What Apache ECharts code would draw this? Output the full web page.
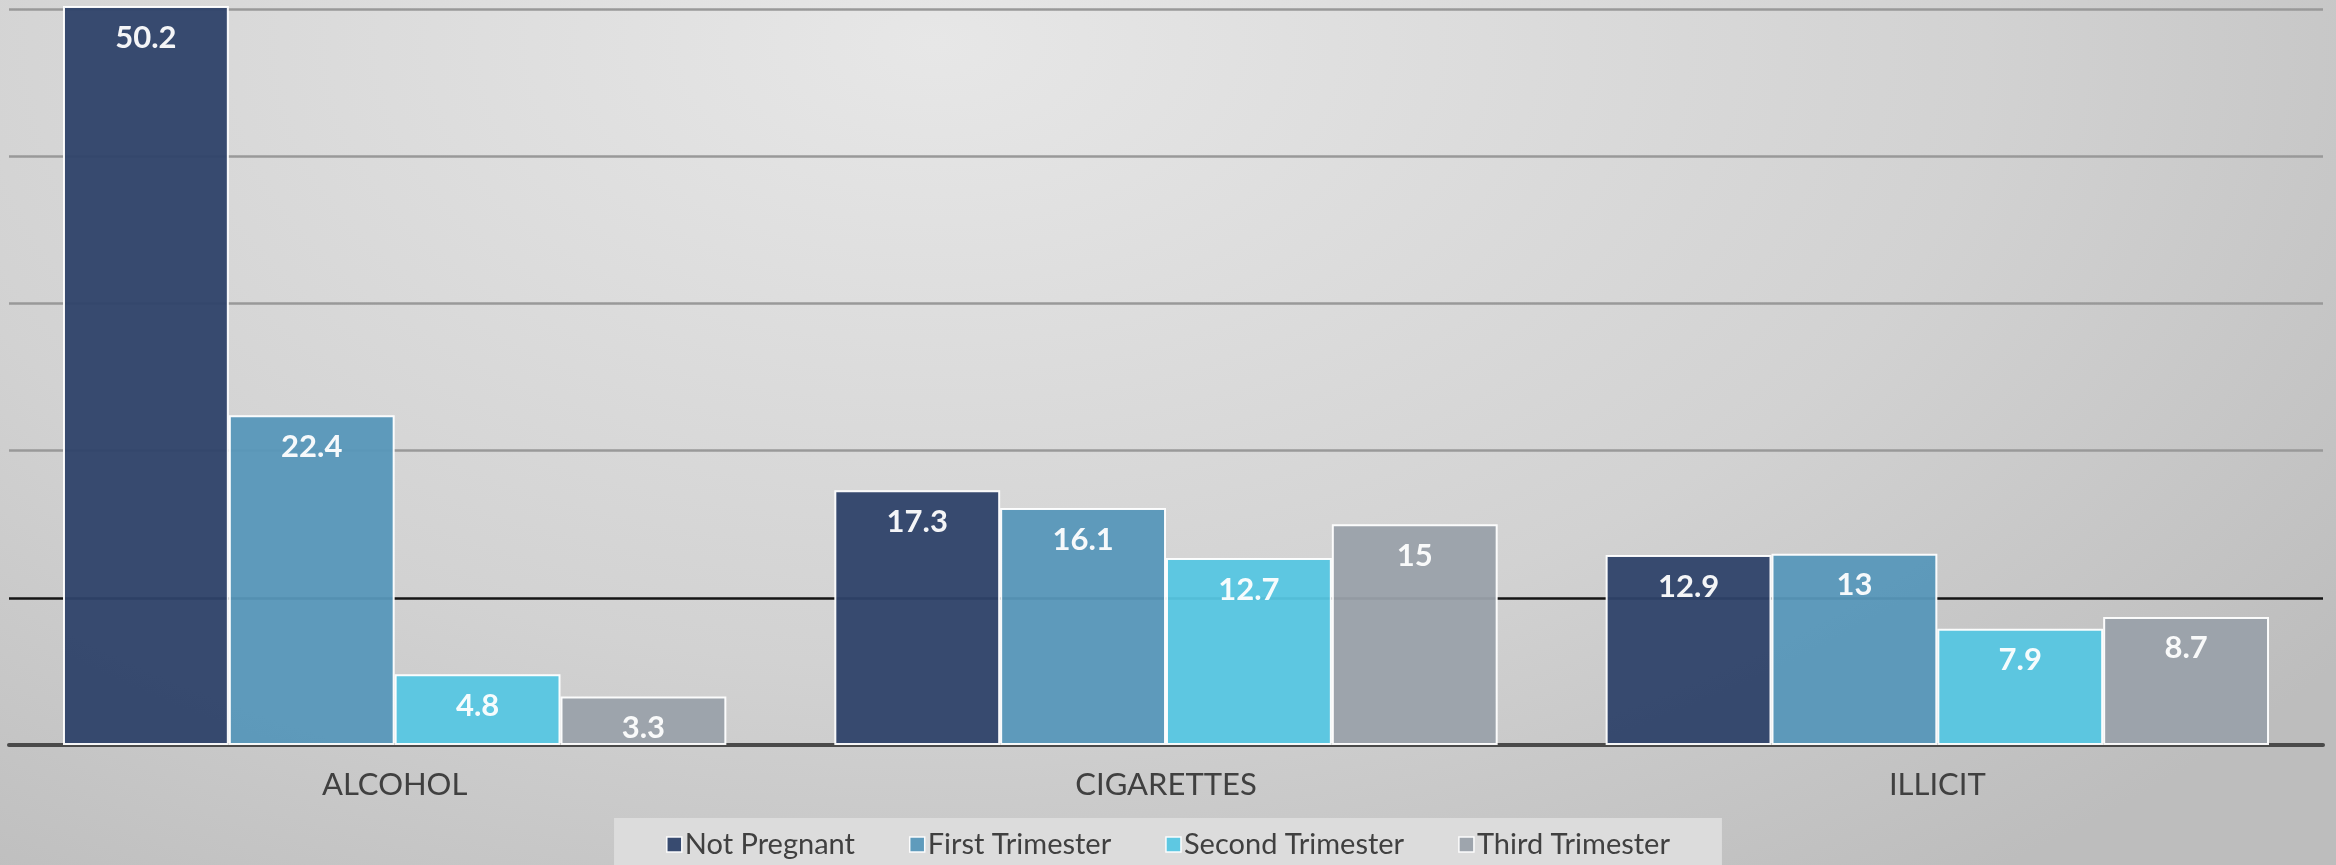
<!DOCTYPE html>
<html>
<head>
    <meta charset="utf-8">
    <title>ECharts</title>
    <script src="https://cdn.jsdelivr.net/npm/echarts@6/dist/echarts.min.js"></script>
    <style>
        html, body { margin: 0; padding: 0; }
        #main {
            width: 2336px; height: 865px;
            background: radial-gradient(ellipse 75% 120% at 40% 5%, #e7e7e7 0%, #d2d2d2 60%, #bdbdbd 100%);
        }
    </style>
</head>
<body>
    <div id="main"></div>
    <script type="text/javascript">
        // data
        var categories = ['ALCOHOL', 'CIGARETTES', 'ILLICIT'];
        var seriesNames = ['Not Pregnant', 'First Trimester', 'Second Trimester', 'Third Trimester'];
        var notPregnant = [50.2, 17.3, 12.9];
        var firstTrimester = [22.4, 16.1, 13];
        var secondTrimester = [4.8, 12.7, 7.9];
        var thirdTrimester = [3.3, 15, 8.7];
        var colors = ['#2e4269', '#5797b9', '#56c6e2', '#9aa1aa'];

        var myChart = echarts.init(document.getElementById('main'));

        var allData = [notPregnant, firstTrimester, secondTrimester, thirdTrimester];
        var series = allData.map(function (d, i) {
            return {
                name: seriesNames[i],
                type: 'bar',
                data: d,
                barGap: '0%',
                barCategoryGap: '14%',
                clip: false,
                itemStyle: {
                    color: colors[i],
                    opacity: 0.95,
                    borderColor: '#ffffff',
                    borderWidth: 2
                },
                label: {
                    show: true,
                    position: 'insideTop',
                    distance: 16,
                    color: '#ffffff',
                    fontFamily: 'Lato',
                    fontWeight: 'bold',
                    fontSize: 31
                }
            };
        });

        myChart.setOption({
            color: colors,
            textStyle: { fontFamily: 'Lato' },
            grid: { left: 9, right: 13, top: 9, bottom: 120 },
            legend: {
                data: seriesNames,
                bottom: 0,
                left: 'center',
                backgroundColor: '#dcdcdc',
                padding: [12, 52, 6, 52],
                itemWidth: 15,
                itemHeight: 15,
                itemGap: 54,
                icon: 'rect',
                itemStyle: { borderColor: '#ffffff', borderWidth: 1.5 },
                textStyle: { fontSize: 29, color: '#404040', fontFamily: 'Lato', padding: [0, 0, 0, -2] }
            },
            xAxis: {
                type: 'category',
                data: categories,
                axisTick: { show: false },
                axisLine: { lineStyle: { color: '#4a4a4a', width: 4 } },
                axisLabel: { fontSize: 31, color: '#404040', margin: 24, fontFamily: 'Lato' }
            },
            yAxis: {
                type: 'value',
                min: 0,
                max: 50,
                interval: 10,
                axisLabel: { show: false },
                axisLine: { show: false },
                axisTick: { show: false },
                splitLine: {
                    lineStyle: {
                        color: ['#999999', '#151515', '#999999', '#999999', '#999999', '#999999'],
                        width: 2.5
                    }
                }
            },
            series: series
        });
    </script>
</body>
</html>
